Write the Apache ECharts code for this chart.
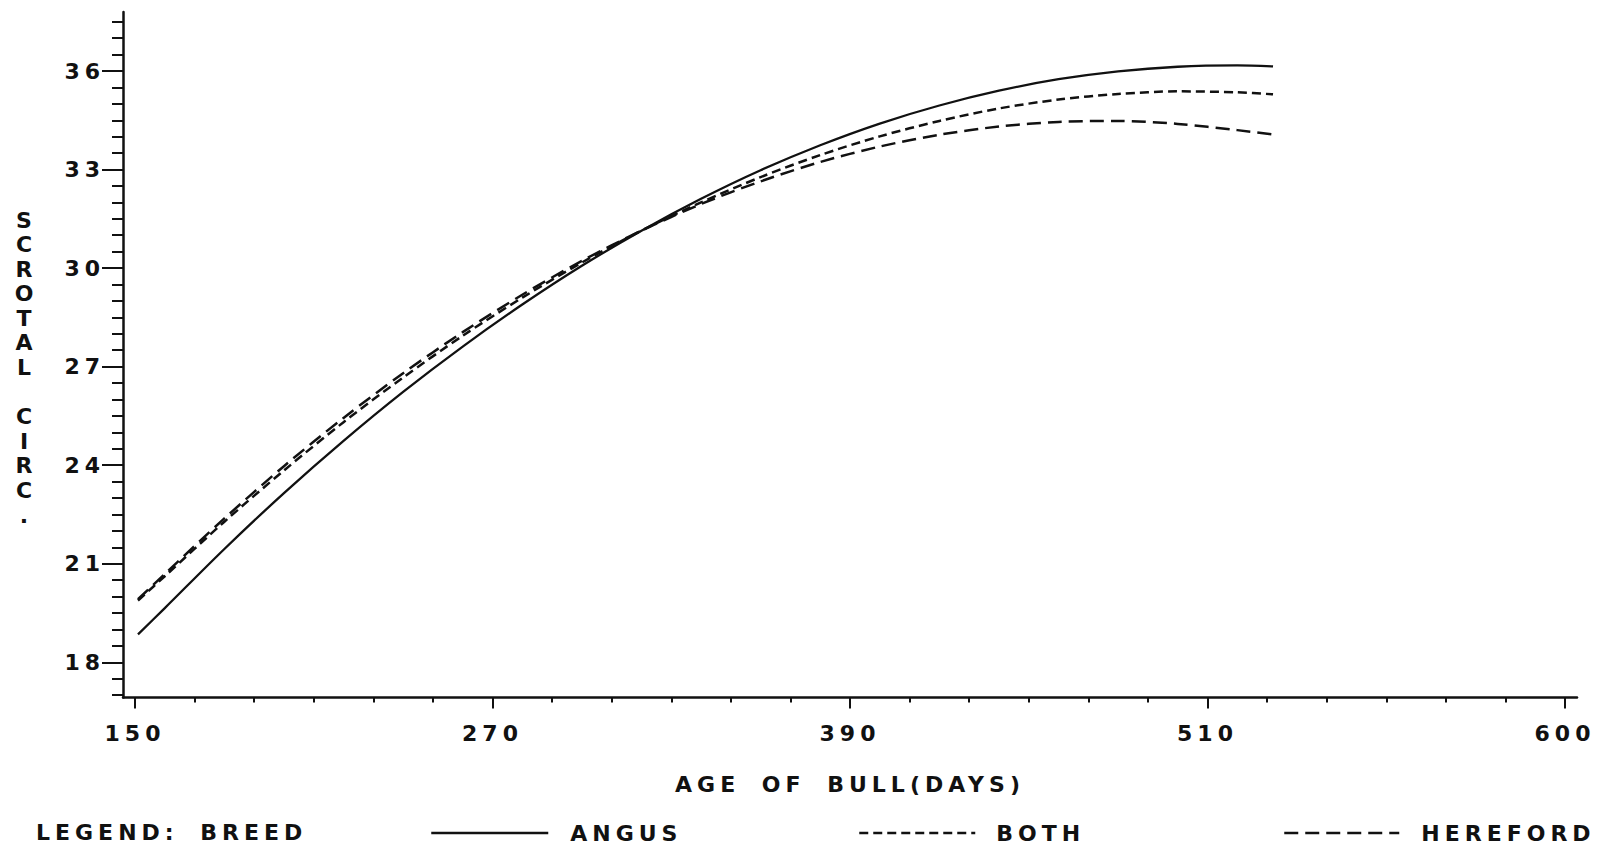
<!DOCTYPE html>
<html>
<head>
<meta charset="utf-8">
<script src="https://cdn.jsdelivr.net/npm/echarts@6/dist/echarts.min.js"></script>
<style>
  html, body { margin: 0; padding: 0; background: #ffffff; }
  #main { width: 1606px; height: 848px; }
  #main svg text { letter-spacing: 5px; word-spacing: 9px; }
</style>
</head>
<body>
<div id="main"></div>
<script>
// ---------- data ----------
const ageDays  = [151, 160, 180, 200, 220, 240, 260, 280, 300, 320, 340, 360, 380, 400, 420, 440, 460, 480, 500, 520, 532];
const angus    = [18.85, 19.65, 21.45, 23.15, 24.74, 26.23, 27.61, 28.89, 30.07, 31.14, 32.11, 32.98, 33.74, 34.40, 34.95, 35.40, 35.75, 35.99, 36.13, 36.17, 36.14];
const both     = [19.88, 20.62, 22.28, 23.84, 25.31, 26.67, 27.94, 29.10, 30.17, 31.14, 32.00, 32.77, 33.44, 34.01, 34.48, 34.86, 35.13, 35.30, 35.38, 35.35, 35.29];
const hereford = [19.92, 20.69, 22.38, 23.97, 25.44, 26.80, 28.05, 29.19, 30.22, 31.14, 31.95, 32.64, 33.23, 33.70, 34.06, 34.31, 34.45, 34.48, 34.39, 34.20, 34.07];
const seriesNames = ['ANGUS', 'BOTH', 'HEREFORD'];
const xTickValues = [150, 270, 390, 510, 630];
const xTickLabels = ['150', '270', '390', '510', '600'];
const yTickValues = [18, 21, 24, 27, 30, 33, 36];
const xAxisTitle = 'AGE OF BULL(DAYS)';
const yAxisTitle = 'SCROTAL CIRC.';
const legendTitle = 'LEGEND: BREED';

// ---------- layout (pixels) ----------
const LAYOUT = { x150: 135, x630: 1565, axisLeft: 123, axisRight: 1577,
                 y36: 71, y18: 662.3, axisTop: 12, axisBottom: 697.5 };
const pxPerDay  = (LAYOUT.x630 - LAYOUT.x150) / (xTickValues[4] - xTickValues[0]);
const pxPerUnit = (LAYOUT.y18 - LAYOUT.y36) / (36 - 18);
const xMin = 150 - (LAYOUT.x150 - LAYOUT.axisLeft) / pxPerDay;
const xMax = 630 + (LAYOUT.axisRight - LAYOUT.x630) / pxPerDay;
const yMax = 36 + (LAYOUT.y36 - LAYOUT.axisTop) / pxPerUnit;
const yMin = 18 - (LAYOUT.axisBottom - LAYOUT.y18) / pxPerUnit;
const yPix = v => LAYOUT.y36 + (36 - v) * pxPerUnit;

const INK = '#111111';
const FONT = { fontFamily: 'DejaVu Sans', fontWeight: 'bold', fontSize: 22, color: INK };

const plotW = LAYOUT.axisRight - LAYOUT.axisLeft;
const plotH = LAYOUT.axisBottom - LAYOUT.axisTop;

const hiddenAxis = (gi) => ({ gridIndex: gi, type: 'value', show: false, min: 0, max: 1 });
const noLine = { show: false, onZero: false };
const legendBase = (name, left, width, gap) => ({
  data: [name], left: left, top: 822, itemWidth: width, itemHeight: 14, padding: 0,
  selectedMode: false,
  textStyle: Object.assign({}, FONT, { padding: [0, 0, 0, gap] }),
  lineStyle: { width: 2.5 },
  itemStyle: { color: 'rgba(0,0,0,0)', borderWidth: 0, opacity: 0 }
});

const option = {
  backgroundColor: '#ffffff',
  animation: false,
  title: [
    {
      text: yAxisTitle.replace(' ', '\n').split('').join('\n').replace('\n\n\n', '\n\n'),
      left: 26.5, top: yPix(36) + 136.7, padding: 0, textAlign: 'center',
      textStyle: Object.assign({}, FONT, { lineHeight: 24.6 })
    },
    {
      text: legendTitle, left: 36, top: 821, padding: 0,
      textStyle: Object.assign({}, FONT, { lineHeight: 22 })
    }
  ],
  grid: [
    { left: LAYOUT.axisLeft, top: LAYOUT.axisTop, width: plotW, height: plotH },
    { left: LAYOUT.axisLeft, top: yPix(36), width: plotW, height: yPix(18) - yPix(36) },
    { left: LAYOUT.axisLeft, top: yPix(37.5), width: plotW, height: yPix(17) - yPix(37.5) },
    { left: LAYOUT.x150, top: LAYOUT.axisTop, width: LAYOUT.x630 - LAYOUT.x150, height: plotH },
    { left: LAYOUT.x150, top: LAYOUT.axisTop, width: LAYOUT.x630 - LAYOUT.x150, height: plotH }
  ],
  xAxis: [
    { gridIndex: 0, type: 'value', min: xMin, max: xMax,
      axisLine: { show: true, onZero: false, lineStyle: { color: INK, width: 2.5 } },
      axisTick: { show: false }, axisLabel: { show: false }, splitLine: { show: false },
      name: xAxisTitle, nameLocation: 'middle', nameGap: 76,
      nameTextStyle: Object.assign({}, FONT) },
    hiddenAxis(1),
    hiddenAxis(2),
    { gridIndex: 3, type: 'value', min: xTickValues[0], max: xTickValues[4], interval: 120,
      axisLine: noLine, splitLine: { show: false },
      axisTick: { show: true, length: 11, lineStyle: { color: INK, width: 2 } },
      axisLabel: Object.assign({}, FONT, { margin: 25, showMinLabel: true, showMaxLabel: true,
        formatter: v => { const i = xTickValues.indexOf(Math.round(v)); return i >= 0 ? xTickLabels[i] : ''; } }) },
    { gridIndex: 4, type: 'value', min: xTickValues[0], max: xTickValues[4], interval: 20,
      axisLine: noLine, splitLine: { show: false }, axisLabel: { show: false },
      axisTick: { show: true, length: 5, lineStyle: { color: INK, width: 2 } } }
  ],
  yAxis: [
    { gridIndex: 0, type: 'value', min: yMin, max: yMax,
      axisLine: { show: true, onZero: false, lineStyle: { color: INK, width: 2.5 } },
      axisTick: { show: false }, axisLabel: { show: false }, splitLine: { show: false } },
    { gridIndex: 1, type: 'value', min: yTickValues[0], max: yTickValues[yTickValues.length - 1], interval: 3,
      axisLine: noLine, splitLine: { show: false },
      axisTick: { show: true, length: 21, lineStyle: { color: INK, width: 2 } },
      axisLabel: Object.assign({}, FONT, { margin: 18,
        formatter: v => (yTickValues.indexOf(Math.round(v)) >= 0 ? String(Math.round(v)) : '') }) },
    { gridIndex: 2, type: 'value', min: 17, max: 37.5, interval: 0.5,
      axisLine: noLine, splitLine: { show: false }, axisLabel: { show: false },
      axisTick: { show: true, length: 11, lineStyle: { color: INK, width: 2 } } },
    hiddenAxis(3),
    hiddenAxis(4)
  ],
  legend: [
    legendBase(seriesNames[0], 430, 117, 17),
    legendBase(seriesNames[1], 858, 116, 16),
    legendBase(seriesNames[2], 1283, 115, 17)
  ],
  series: [
    { name: seriesNames[0], type: 'line', xAxisIndex: 0, yAxisIndex: 0, symbol: 'none', symbolSize: 0, smooth: 0.3,
      lineStyle: { color: INK, width: 2.3, type: 'solid' }, itemStyle: { color: INK },
      data: ageDays.map((d, i) => [d, angus[i]]) },
    { name: seriesNames[1], type: 'line', xAxisIndex: 0, yAxisIndex: 0, symbol: 'none', symbolSize: 0, smooth: 0.3,
      lineStyle: { color: INK, width: 2.5, type: [9, 5] }, itemStyle: { color: INK },
      data: ageDays.map((d, i) => [d, both[i]]) },
    { name: seriesNames[2], type: 'line', xAxisIndex: 0, yAxisIndex: 0, symbol: 'none', symbolSize: 0, smooth: 0.3,
      lineStyle: { color: INK, width: 2.5, type: [14, 7] }, itemStyle: { color: INK },
      data: ageDays.map((d, i) => [d, hereford[i]]) }
  ]
};

const chart = echarts.init(document.getElementById('main'), null, { renderer: 'svg', width: 1606, height: 848 });
chart.setOption(option);
</script>
</body>
</html>
